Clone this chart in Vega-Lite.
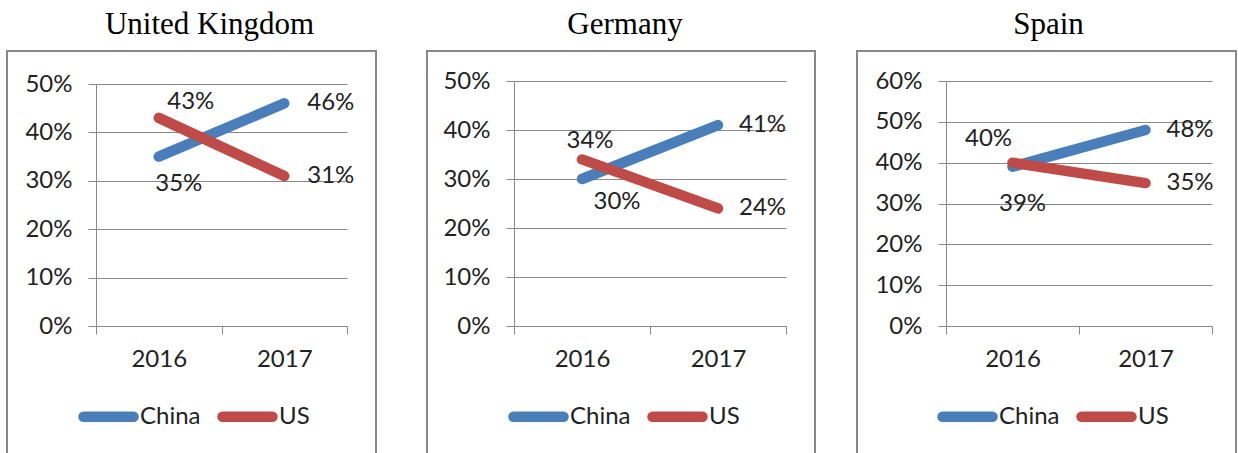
{
  "$schema": "https://vega.github.io/schema/vega-lite/v6.json",
  "padding": {"left": 6, "top": 8, "right": 0, "bottom": 0},
  "background": "white",
  "datasets": {
    "d": [
      {"country": "United Kingdom", "series": "China", "year": "2016", "share": 0.35},
      {"country": "United Kingdom", "series": "China", "year": "2017", "share": 0.46},
      {"country": "United Kingdom", "series": "US", "year": "2016", "share": 0.43},
      {"country": "United Kingdom", "series": "US", "year": "2017", "share": 0.31},
      {"country": "Germany", "series": "China", "year": "2016", "share": 0.30},
      {"country": "Germany", "series": "China", "year": "2017", "share": 0.41},
      {"country": "Germany", "series": "US", "year": "2016", "share": 0.34},
      {"country": "Germany", "series": "US", "year": "2017", "share": 0.24},
      {"country": "Spain", "series": "China", "year": "2016", "share": 0.39},
      {"country": "Spain", "series": "China", "year": "2017", "share": 0.48},
      {"country": "Spain", "series": "US", "year": "2016", "share": 0.40},
      {"country": "Spain", "series": "US", "year": "2017", "share": 0.35}
    ]
  },
  "data": {"name": "d"},
  "spacing": 49,
  "resolve": {"scale": {"color": "independent"}, "legend": {"color": "independent"}},
  "hconcat": [
    {
      "width": 369, "height": 405,
      "title": {"text": "United Kingdom", "dx": 18, "offset": 10},
      "transform": [{"filter": "datum.country === 'United Kingdom'"}],
      "encoding": {
        "x": {"field": "year", "type": "ordinal", "scale": {"type": "band", "range": [89, 340], "paddingInner": 0, "paddingOuter": 0}, "axis": {"offset": -130, "title": null}},
        "y": {"field": "share", "type": "quantitative", "scale": {"domain": [0, 0.5], "range": [275, 33], "nice": false}, "axis": {"offset": -89, "title": null, "format": ".0%", "values": [0, 0.1, 0.2, 0.3, 0.4, 0.5]}}
      },
      "layer": [
        {"mark": {"type": "line", "strokeWidth": 10.5, "strokeCap": "round"},
         "encoding": {"color": {"field": "series", "type": "nominal", "scale": {"domain": ["China", "US"], "range": ["#4a7ebb", "#be4b48"]}, "legend": {"title": null, "legendX": 71, "legendY": 335, "encode": {"symbols": {"update": {"strokeCap": {"value": "round"}}}}}}}},
        {"transform": [{"filter": "datum.year === '2017'"}], "mark": {"type": "text", "align": "left", "dx": 23}, "encoding": {"text": {"field": "share", "type": "quantitative", "format": ".0%"}}},
        {"transform": [{"filter": "datum.year === '2016' && datum.series === 'US'"}], "mark": {"type": "text", "align": "center", "dx": 32, "dy": -16}, "encoding": {"text": {"field": "share", "type": "quantitative", "format": ".0%"}}},
        {"transform": [{"filter": "datum.year === '2016' && datum.series === 'China'"}], "mark": {"type": "text", "align": "center", "dx": 20, "dy": 27}, "encoding": {"text": {"field": "share", "type": "quantitative", "format": ".0%"}}}
      ]
    },
    {
      "spacing": 40,
      "resolve": {"scale": {"color": "independent"}, "legend": {"color": "independent"}},
      "hconcat": [
        {
          "width": 388, "height": 405,
          "title": {"text": "Germany", "dx": 4, "offset": 10},
          "transform": [{"filter": "datum.country === 'Germany'"}],
          "encoding": {
            "x": {"field": "year", "type": "ordinal", "scale": {"type": "band", "range": [87, 359], "paddingInner": 0, "paddingOuter": 0}, "axis": {"offset": -130, "title": null}},
            "y": {"field": "share", "type": "quantitative", "scale": {"domain": [0, 0.5], "range": [275, 30], "nice": false}, "axis": {"offset": -87, "title": null, "format": ".0%", "values": [0, 0.1, 0.2, 0.3, 0.4, 0.5]}}
          },
          "layer": [
            {"mark": {"type": "line", "strokeWidth": 10.5, "strokeCap": "round"},
             "encoding": {"color": {"field": "series", "type": "nominal", "scale": {"domain": ["China", "US"], "range": ["#4a7ebb", "#be4b48"]}, "legend": {"title": null, "legendX": 81, "legendY": 335, "encode": {"symbols": {"update": {"strokeCap": {"value": "round"}}}}}}}},
            {"transform": [{"filter": "datum.year === '2017'"}], "mark": {"type": "text", "align": "left", "dx": 21}, "encoding": {"text": {"field": "share", "type": "quantitative", "format": ".0%"}}},
            {"transform": [{"filter": "datum.year === '2016' && datum.series === 'US'"}], "mark": {"type": "text", "align": "center", "dx": 8, "dy": -18}, "encoding": {"text": {"field": "share", "type": "quantitative", "format": ".0%"}}},
            {"transform": [{"filter": "datum.year === '2016' && datum.series === 'China'"}], "mark": {"type": "text", "align": "center", "dx": 35, "dy": 23}, "encoding": {"text": {"field": "share", "type": "quantitative", "format": ".0%"}}}
          ]
        },
        {
          "width": 379, "height": 405,
          "title": {"text": "Spain", "dx": 2, "offset": 10},
          "transform": [{"filter": "datum.country === 'Spain'"}],
          "encoding": {
            "x": {"field": "year", "type": "ordinal", "scale": {"type": "band", "range": [89, 355], "paddingInner": 0, "paddingOuter": 0}, "axis": {"offset": -130, "title": null}},
            "y": {"field": "share", "type": "quantitative", "scale": {"domain": [0, 0.6], "range": [275, 30], "nice": false}, "axis": {"offset": -89, "title": null, "format": ".0%", "values": [0, 0.1, 0.2, 0.3, 0.4, 0.5, 0.6]}}
          },
          "layer": [
            {"mark": {"type": "line", "strokeWidth": 10.5, "strokeCap": "round"},
             "encoding": {"color": {"field": "series", "type": "nominal", "scale": {"domain": ["China", "US"], "range": ["#4a7ebb", "#be4b48"]}, "legend": {"title": null, "legendX": 80, "legendY": 335, "encode": {"symbols": {"update": {"strokeCap": {"value": "round"}}}}}}}},
            {"transform": [{"filter": "datum.year === '2017'"}], "mark": {"type": "text", "align": "left", "dx": 21}, "encoding": {"text": {"field": "share", "type": "quantitative", "format": ".0%"}}},
            {"transform": [{"filter": "datum.year === '2016' && datum.series === 'US'"}], "mark": {"type": "text", "align": "center", "dx": -24, "dy": -24}, "encoding": {"text": {"field": "share", "type": "quantitative", "format": ".0%"}}},
            {"transform": [{"filter": "datum.year === '2016' && datum.series === 'China'"}], "mark": {"type": "text", "align": "center", "dx": 10, "dy": 37}, "encoding": {"text": {"field": "share", "type": "quantitative", "format": ".0%"}}}
          ]
        }
      ]
    }
  ],
  "config": {
    "view": {"stroke": "#888888", "strokeWidth": 2},
    "font": "Lato",
    "text": {"font": "Lato", "fontSize": 24, "color": "#222222"},
    "title": {"font": "Liberation Serif", "fontSize": 31, "fontWeight": "normal", "color": "#000000", "anchor": "middle", "frame": "group"},
    "axis": {"labelFont": "Lato", "labelFontSize": 24, "labelColor": "#222222", "domainColor": "#888888", "tickColor": "#888888", "gridColor": "#888888", "domainWidth": 1, "tickWidth": 1, "gridWidth": 1, "gridOpacity": 1},
    "axisY": {"grid": true, "tickSize": 8, "labelPadding": 16},
    "axisX": {"grid": false, "tickBand": "extent", "tickSize": 8, "labelPadding": 13, "labelAngle": 0},
    "legend": {"orient": "none", "direction": "horizontal", "symbolType": "stroke", "symbolSize": 2500, "symbolStrokeWidth": 10.5, "labelFont": "Lato", "labelFontSize": 24, "labelColor": "#222222", "labelOffset": 1, "columnPadding": 0, "padding": 0}
  }
}
